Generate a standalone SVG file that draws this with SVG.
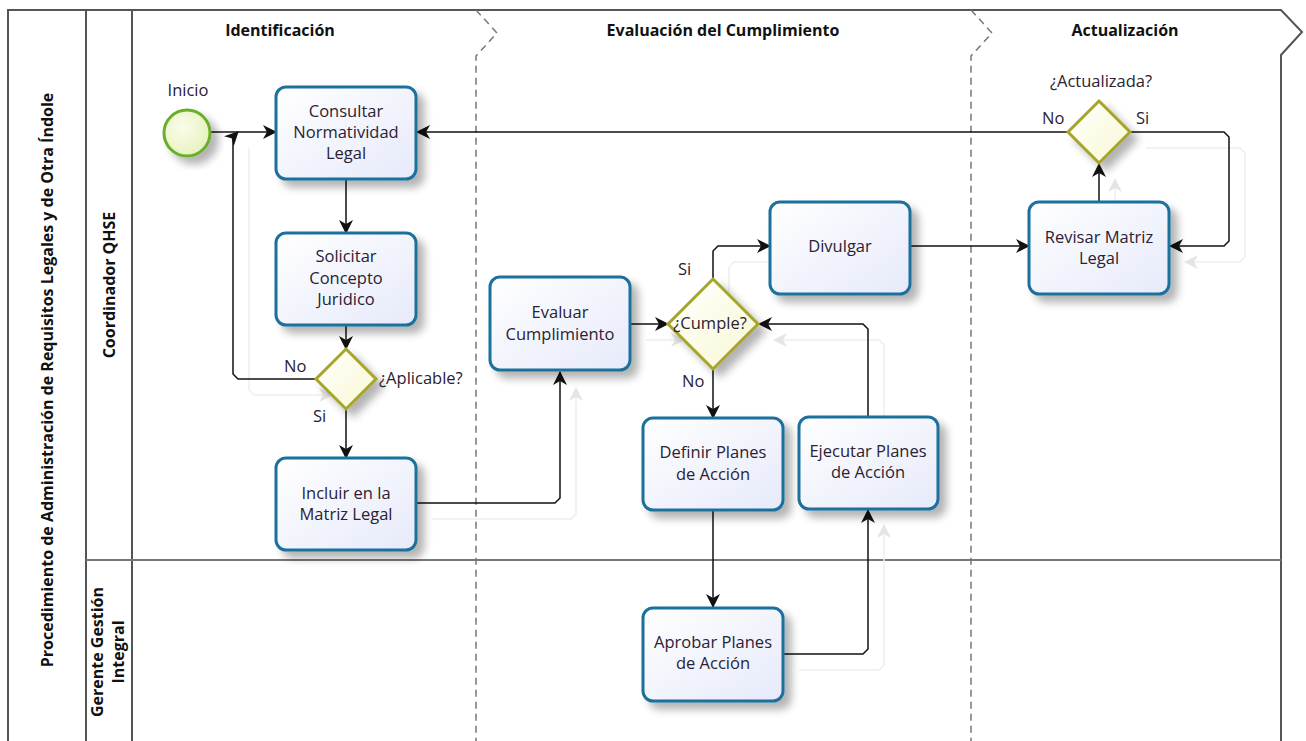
<svg xmlns="http://www.w3.org/2000/svg" width="1306" height="741" viewBox="0 0 1306 741">
  <defs>
    <linearGradient id="taskFill" x1="0" y1="0" x2="1" y2="1">
      <stop offset="0" stop-color="#ffffff"/>
      <stop offset="1" stop-color="#e6eafa"/>
    </linearGradient>
    <radialGradient id="startFill" cx="0.4" cy="0.4" r="0.7">
      <stop offset="0" stop-color="#fbfdeb"/>
      <stop offset="1" stop-color="#e3f1b8"/>
    </radialGradient>
    <linearGradient id="gateFill" x1="0" y1="0" x2="1" y2="1">
      <stop offset="0" stop-color="#ffffff"/>
      <stop offset="1" stop-color="#f8f8d2"/>
    </linearGradient>
    <filter id="shadow" x="-20%" y="-20%" width="150%" height="150%">
      <feGaussianBlur in="SourceAlpha" stdDeviation="4"/>
      <feOffset dx="7" dy="7" result="b"/>
      <feComponentTransfer><feFuncA type="linear" slope="0.3"/></feComponentTransfer>
      <feMerge><feMergeNode/><feMergeNode in="SourceGraphic"/></feMerge>
    </filter>
    <marker id="arrow" viewBox="0 0 14 14" refX="13" refY="7" markerWidth="14" markerHeight="14" markerUnits="userSpaceOnUse" orient="auto">
      <path d="M0,0 L14,7 L0,14 L4,7 z" fill="#111"/>
    </marker>
    <marker id="ghostArrow" viewBox="0 0 14 14" refX="13" refY="7" markerWidth="14" markerHeight="14" markerUnits="userSpaceOnUse" orient="auto">
      <path d="M0,0 L14,7 L0,14 L4,7 z" fill="#e4e4e4"/>
    </marker>
  </defs>
  <style>
    .pool { fill: none; stroke: #555; stroke-width: 2; }
    .lane { fill: none; stroke: #777; stroke-width: 2; }
    .phase { fill: none; stroke: #777; stroke-width: 1.5; stroke-dasharray: 7 5; }
    .task { fill: url(#taskFill); stroke: #1d6f9c; stroke-width: 3; filter: url(#shadow); }
    .gate { fill: url(#gateFill); stroke: #a6a52c; stroke-width: 3; filter: url(#shadow); }
    .start { fill: url(#startFill); stroke: #6aae2a; stroke-width: 3; filter: url(#shadow); }
    .flow { fill: none; stroke: #111; stroke-width: 1.5; marker-end: url(#arrow); }
    .ghost { fill: none; stroke: #eeeeee; stroke-width: 1.5; marker-end: url(#ghostArrow); }
    text { font-family: "Open Sans", "Noto Sans", sans-serif; fill: #2a2233; }
    .t { font-size: 16.5px; text-anchor: middle; }
    .lbl { font-size: 16.5px; }
    .head { font-size: 16px; font-weight: bold; text-anchor: middle; fill: #111; }
    .vert { font-size: 16px; font-weight: bold; text-anchor: middle; fill: #111; }
  </style>

  <rect width="1306" height="741" fill="#ffffff"/>

  <!-- pool and lanes -->
  <g id="pool">
    <path class="pool" d="M8,760 V10 H1281 L1302,32 L1281,55 V760"/>
    <line class="pool" x1="86" y1="10" x2="86" y2="760"/>
    <line class="pool" x1="132" y1="10" x2="132" y2="760"/>
    <line class="lane" x1="86" y1="560" x2="1281" y2="560"/>
    <text class="vert" transform="translate(53,380) rotate(-90)">Procedimiento de Administración de Requisitos Legales y de Otra Índole</text>
    <text class="vert" transform="translate(115,285) rotate(-90)">Coordinador QHSE</text>
    <text class="vert" transform="translate(103,652) rotate(-90)">Gerente Gestión</text>
    <text class="vert" transform="translate(124,652) rotate(-90)">Integral</text>
  </g>

  <!-- phases -->
  <g id="phases">
    <path class="phase" d="M476,10 L497,33 L476,56 V760"/>
    <path class="phase" d="M971,10 L992,33 L971,56 V760"/>
    <text class="head" x="280" y="36">Identificación</text>
    <text class="head" x="723" y="36">Evaluación del Cumplimiento</text>
    <text class="head" x="1125" y="36">Actualización</text>
  </g>

  <!-- faint reflection of the flows -->
  <g id="flow-shadow" transform="translate(16,16)">
    <path class="ghost" d="M233,132 V374 L238,379 H316"/>
    <path class="ghost" d="M416,503 H555 L560,498 V372"/>
    <path class="ghost" d="M1130,132 H1224 L1229,137 V241 L1224,246 H1169"/>
    <path class="ghost" d="M868,417 V329 L863,324 H758"/>
    <path class="ghost" d="M783,654 H863 L868,649 V509"/>
    <path class="ghost" d="M713,279 V251 L718,246 H770"/>
    <path class="ghost" d="M1099,202 V163"/>
    <path class="ghost" d="M630,324 H668"/>
  </g>

  <!-- sequence flows -->
  <g id="connectors">
    <path class="flow" d="M210,132 H276"/>
    <path class="flow" d="M346,179 V233"/>
    <path class="flow" d="M346,325 V349"/>
    <path class="flow" d="M316,379 H238 L233,374 V137 L238,132"/>
    <path class="flow" d="M346,409 V458"/>
    <path class="flow" d="M416,503 H555 L560,498 V372"/>
    <path class="flow" d="M630,324 H668"/>
    <path class="flow" d="M713,279 V251 L718,246 H770"/>
    <path class="flow" d="M713,369 V418"/>
    <path class="flow" d="M713,510 V607"/>
    <path class="flow" d="M783,654 H863 L868,649 V510"/>
    <path class="flow" d="M868,417 V329 L863,324 H759"/>
    <path class="flow" d="M910,246 H1029"/>
    <path class="flow" d="M1099,202 V164"/>
    <path class="flow" d="M1068,132 H417"/>
    <path class="flow" d="M1130,132 H1224 L1229,137 V241 L1224,246 H1170"/>
    <text class="lbl" x="284" y="372">No</text>
    <text class="lbl" x="313" y="422">Si</text>
    <text class="lbl" x="678" y="275">Si</text>
    <text class="lbl" x="682" y="387">No</text>
    <text class="lbl" x="1042" y="124">No</text>
    <text class="lbl" x="1136" y="124">Si</text>
  </g>

  <!-- flow nodes -->
  <g id="inicio">
    <circle class="start" cx="187" cy="133" r="23"/>
    <text class="t" x="188" y="96" fill="#4a2458">Inicio</text>
  </g>
  <g id="consultar">
    <rect class="task" x="276" y="87" width="140" height="92" rx="10"/>
    <text class="t" x="346" y="117">Consultar</text>
    <text class="t" x="346" y="138">Normatividad</text>
    <text class="t" x="346" y="159">Legal</text>
  </g>
  <g id="solicitar">
    <rect class="task" x="276" y="233" width="140" height="92" rx="10"/>
    <text class="t" x="346" y="262">Solicitar</text>
    <text class="t" x="346" y="284">Concepto</text>
    <text class="t" x="346" y="305">Juridico</text>
  </g>
  <g id="aplicable">
    <path class="gate" d="M346,349 L376,379 L346,409 L316,379 z"/>
    <text class="lbl" x="379" y="384">¿Aplicable?</text>
  </g>
  <g id="incluir">
    <rect class="task" x="276" y="458" width="140" height="92" rx="10"/>
    <text class="t" x="346" y="499">Incluir en la</text>
    <text class="t" x="346" y="520">Matriz Legal</text>
  </g>
  <g id="evaluar">
    <rect class="task" x="490" y="277" width="140" height="93" rx="10"/>
    <text class="t" x="560" y="318">Evaluar</text>
    <text class="t" x="560" y="340">Cumplimiento</text>
  </g>
  <g id="cumple">
    <path class="gate" d="M713,279 L758,324 L713,369 L668,324 z"/>
    <text class="t" x="710" y="329">¿Cumple?</text>
  </g>
  <g id="divulgar">
    <rect class="task" x="770" y="202" width="140" height="92" rx="10"/>
    <text class="t" x="840" y="252">Divulgar</text>
  </g>
  <g id="revisar">
    <rect class="task" x="1029" y="202" width="140" height="92" rx="10"/>
    <text class="t" x="1099" y="243">Revisar Matriz</text>
    <text class="t" x="1099" y="264">Legal</text>
  </g>
  <g id="actualizada">
    <path class="gate" d="M1099,101 L1130,132 L1099,163 L1068,132 z"/>
    <text class="t" x="1101" y="87">¿Actualizada?</text>
  </g>
  <g id="definir">
    <rect class="task" x="643" y="418" width="140" height="92" rx="10"/>
    <text class="t" x="713" y="458">Definir Planes</text>
    <text class="t" x="713" y="480">de Acción</text>
  </g>
  <g id="ejecutar">
    <rect class="task" x="799" y="417" width="139" height="92" rx="10"/>
    <text class="t" x="868" y="457">Ejecutar Planes</text>
    <text class="t" x="868" y="478">de Acción</text>
  </g>
  <g id="aprobar">
    <rect class="task" x="643" y="608" width="140" height="93" rx="10"/>
    <text class="t" x="713" y="648">Aprobar Planes</text>
    <text class="t" x="713" y="669">de Acción</text>
  </g>
</svg>
